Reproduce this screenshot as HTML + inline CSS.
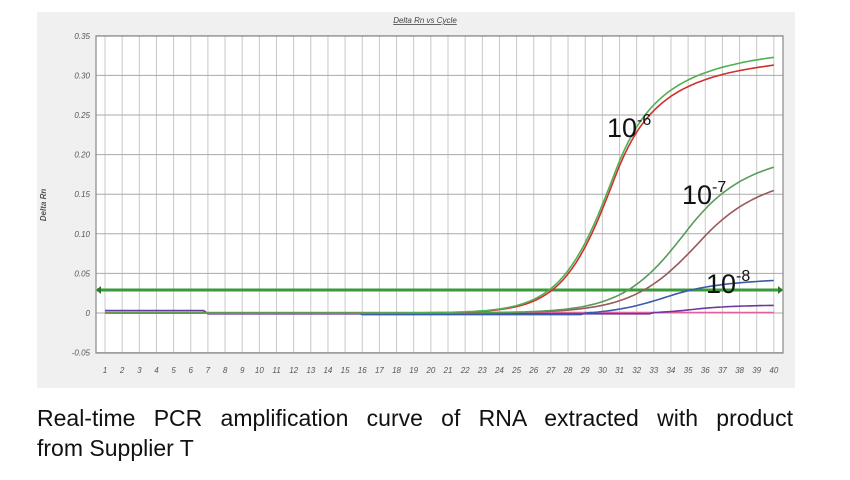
<!DOCTYPE html>
<html><head><meta charset="utf-8"><style>
body{margin:0;width:850px;height:480px;background:#fff;overflow:hidden;font-family:"Liberation Sans",sans-serif}
.cap{position:absolute;left:37px;width:756px;font-size:23px;line-height:30px;color:#111;top:403px}
.j{text-align:justify;text-align-last:justify;display:block}
</style></head><body>
<svg id="s" width="850" height="400" style="position:absolute;left:0;top:0">
<rect x="37" y="12" width="758" height="376" fill="#f0f0f0"/>
<rect x="96" y="36" width="687" height="317" fill="#fff"/>
<g id="grid" stroke="#c8c8c8" stroke-width="1"></g>
<rect x="96" y="36" width="687" height="317" fill="none" stroke="#888" stroke-width="1.2"/>
<g id="yl" font-family="Liberation Sans" font-size="8" font-style="italic" fill="#555" text-anchor="end"></g>
<g id="xl" font-family="Liberation Sans" font-size="8" font-style="italic" fill="#555" text-anchor="middle"></g>
<text x="425" y="23" font-size="8" font-style="italic" fill="#444" text-anchor="middle" text-decoration="underline">Delta Rn vs Cycle</text>
<text x="0" y="0" font-size="8" font-style="italic" font-weight="bold" fill="#555" text-anchor="middle" transform="translate(46,205) rotate(-90)">Delta Rn</text>
<line x1="97" y1="290" x2="782" y2="290" stroke="#3a9a3a" stroke-width="3"/>
<polygon points="96,290 101,286 101,294" fill="#2a7a2a"/>
<polygon points="783,290 778,286 778,294" fill="#2a7a2a"/>
<g id="curves" fill="none" stroke-width="1.6"></g>
<g font-family="Liberation Sans" font-size="27" fill="#111">
<text x="607" y="137">10<tspan font-size="16" dy="-12">-6</tspan></text>
<text x="682" y="204">10<tspan font-size="16" dy="-12">-7</tspan></text>
<text x="706" y="293">10<tspan font-size="16" dy="-12">-8</tspan></text>
</g>
</svg>
<div class="cap"><span class="j">Real-time PCR amplification curve of RNA extracted with product</span>from Supplier T</div>
<script>
var NS="http://www.w3.org/2000/svg";
function X(c){return 105+(c-1)*17.15}
function Y(v){return 313-v*792}
var g=document.getElementById('grid'),yl=document.getElementById('yl'),xl=document.getElementById('xl');
function el(t,a,p){var e=document.createElementNS(NS,t);for(var k in a)e.setAttribute(k,a[k]);p.appendChild(e);return e}
for(var c=1;c<=40;c++){el('line',{x1:X(c),x2:X(c),y1:36,y2:353},g);var t=el('text',{x:X(c),y:373},xl);t.textContent=c}
var labs=['-0.05','0','0.05','0.10','0.15','0.20','0.25','0.30','0.35'];
for(var i=0;i<9;i++){var v=-0.05+i*0.05,y=Y(v);el('line',{x1:96,x2:783,y1:y,y2:y,stroke:'#aaa'},g);var t=el('text',{x:90,y:y+3},yl);t.textContent=labs[i]}
var cg=document.getElementById('curves');
function curve(col,f,c1){var d='';for(var c=c1||1;c<=40.001;c+=0.25){d+=(d?'L':'M')+X(c).toFixed(1)+','+Y(f(c)).toFixed(1)}el('path',{d:d,stroke:col},cg)}
function lg(A,c0,k,s){return function(c){var kk=c<c0?k:k+(c-c0)*(s||0);return A/(1+Math.exp(-(c-c0)/kk))}}
curve('#e060a0',function(c){return 0.0005});
curve('#6a3aa0',function(c){return c<7?0.003:(c<33?-0.001:lg(0.012,35.5,1.3,0.2)(c)-0.001)});
curve('#3a5aaa',function(c){return c<16?0:(c<29?-0.002:lg(0.05,34,1.8,0.2)(c)-0.003)},1);
curve('#9a5a5a',lg(0.186,35.8,2.0,0.15));
curve('#5a9a5a',lg(0.212,35,1.9,0.15));
curve('#d03030',lg(0.35,30.8,1.55,0.3));
curve('#50b050',lg(0.362,30.8,1.6,0.3));
</script>
</body></html>
